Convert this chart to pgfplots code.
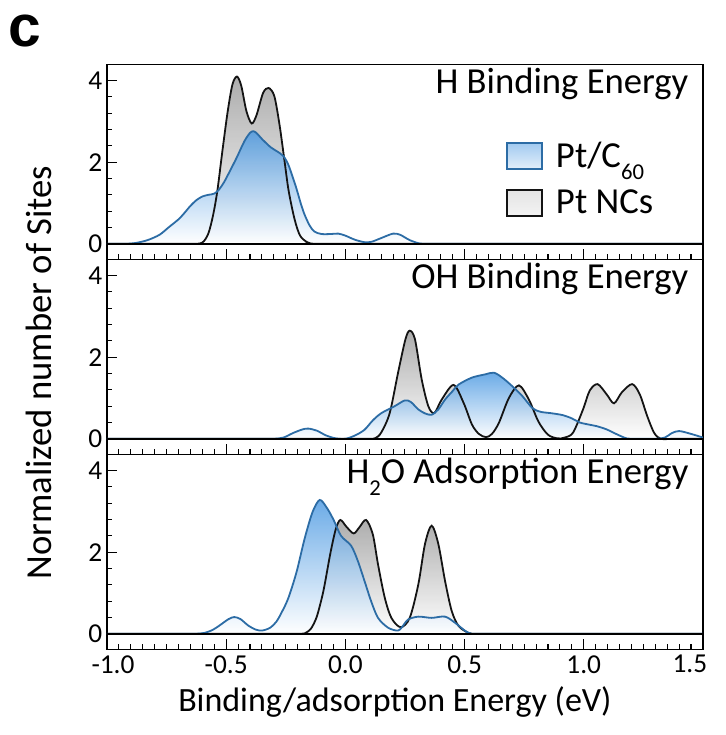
\documentclass[border=0pt]{standalone}
\usepackage{fontspec}
\setmainfont{Carlito}
\newfontfamily\panelfont{Liberation Sans}
\usepackage{pgfplots}
\usepackage{pgfplotstable}
\pgfplotsset{compat=1.18}

\definecolor{ptcline}{RGB}{44,108,165}
\definecolor{ptcfill}{RGB}{70,150,225}
\definecolor{ncfill}{RGB}{158,158,158}
\definecolor{ncline}{RGB}{20,20,20}

% ---------------- H binding energy ----------------
\pgfplotstableread{
x y
-1.0 0
-0.70 0
-0.64 0
-0.60 0.03
-0.575 0.25
-0.555 0.7
-0.537 1.3
-0.516 2.27
-0.494 3.23
-0.474 3.9
-0.455 4.1
-0.437 3.88
-0.415 3.25
-0.393 2.95
-0.373 3.15
-0.345 3.7
-0.322 3.82
-0.298 3.62
-0.276 2.91
-0.255 2.02
-0.238 1.3
-0.213 0.6
-0.19 0.2
-0.16 0.04
-0.13 0
-0.05 0
1.5 0
}\hNC

\pgfplotstableread{
x y
-1.0 0
-0.95 0
-0.92 0
-0.88 0.02
-0.83 0.09
-0.78 0.22
-0.74 0.41
-0.70 0.6
-0.676 0.75
-0.65 0.93
-0.625 1.07
-0.60 1.16
-0.575 1.2
-0.55 1.23
-0.53 1.33
-0.51 1.5
-0.49 1.72
-0.457 2.1
-0.424 2.51
-0.40 2.72
-0.385 2.76
-0.37 2.7
-0.35 2.57
-0.314 2.37
-0.285 2.26
-0.26 2.15
-0.24 1.95
-0.22 1.62
-0.205 1.35
-0.185 0.95
-0.17 0.7
-0.15 0.45
-0.13 0.3
-0.10 0.24
-0.06 0.24
-0.03 0.25
0.0 0.2
0.04 0.1
0.08 0.04
0.11 0.05
0.15 0.14
0.20 0.25
0.23 0.22
0.27 0.09
0.31 0.01
0.34 0
0.40 0
1.5 0
}\hPt

% ---------------- OH binding energy ----------------
\pgfplotstableread{
x y
-1.0 0
0.05 0
0.08 0
0.123 0.01
0.15 0.15
0.186 0.63
0.221 1.62
0.252 2.44
0.270 2.65
0.292 2.44
0.320 1.46
0.348 0.8
0.373 0.63
0.404 0.96
0.454 1.32
0.496 0.88
0.531 0.35
0.560 0.12
0.590 0.04
0.615 0.12
0.644 0.39
0.686 1.0
0.728 1.31
0.770 0.96
0.810 0.42
0.850 0.10
0.890 0.01
0.920 0.03
0.955 0.15
0.997 0.72
1.025 1.18
1.058 1.34
1.096 1.09
1.127 0.87
1.160 1.14
1.203 1.34
1.235 1.09
1.266 0.56
1.295 0.15
1.323 0.0
1.38 0
1.5 0
}\ohNC

\pgfplotstableread{
x y
-1.0 0
-0.35 0
-0.30 0
-0.26 0.03
-0.22 0.14
-0.18 0.23
-0.155 0.25
-0.12 0.2
-0.08 0.08
-0.04 0.01
0.00 0
0.04 0.08
0.08 0.22
0.115 0.45
0.151 0.63
0.207 0.8
0.249 0.94
0.275 0.9
0.306 0.72
0.335 0.62
0.362 0.59
0.39 0.72
0.418 0.96
0.45 1.17
0.475 1.33
0.531 1.5
0.587 1.58
0.623 1.62
0.658 1.5
0.70 1.29
0.742 1.05
0.785 0.75
0.82 0.66
0.86 0.63
0.912 0.58
0.95 0.5
0.983 0.4
1.02 0.35
1.054 0.31
1.096 0.23
1.139 0.11
1.18 0.01
1.22 0
1.30 0
1.34 0.03
1.37 0.14
1.40 0.19
1.45 0.12
1.5 0.03
}\ohPt

% ---------------- H2O adsorption energy ----------------
\pgfplotstableread{
x y
-1.0 0
-0.25 0
-0.20 0
-0.171 0.01
-0.145 0.12
-0.121 0.4
-0.10 0.85
-0.087 1.2
-0.062 2.0
-0.04 2.57
-0.021 2.79
0.005 2.62
0.035 2.46
0.06 2.62
0.087 2.79
0.115 2.44
0.137 1.7
0.165 0.89
0.193 0.39
0.232 0.16
0.27 0.39
0.306 1.21
0.334 2.2
0.362 2.65
0.39 2.2
0.418 1.3
0.446 0.56
0.475 0.19
0.517 0.02
0.545 0
0.60 0
1.5 0
}\waNC

\pgfplotstableread{
x y
-1.0 0
-0.68 0
-0.63 0
-0.592 0.02
-0.555 0.1
-0.524 0.22
-0.49 0.36
-0.466 0.41
-0.44 0.36
-0.407 0.2
-0.375 0.1
-0.348 0.08
-0.315 0.15
-0.289 0.3
-0.265 0.55
-0.239 0.88
-0.205 1.51
-0.171 2.33
-0.138 2.98
-0.108 3.28
-0.079 3.1
-0.05 2.8
-0.018 2.4
0.024 2.16
0.052 1.79
0.08 1.3
0.108 0.8
0.137 0.39
0.179 0.15
0.221 0.08
0.245 0.22
0.263 0.35
0.306 0.42
0.362 0.39
0.418 0.42
0.46 0.27
0.503 0.07
0.53 0
0.58 0
1.5 0
}\waPt

\pgfplotsset{
  panel/.style={
    scale only axis, width=447pt, height=146.25pt,
    xmin=-1, xmax=1.5, ymin=-0.38, ymax=4.4,
    xtick={-1,-0.5,0,0.5,1,1.5}, ytick={0,2,4}, yticklabels={0,2,4},
    minor x tick num=9, minor y tick num=4,
    tick align=inside, tick pos=left,
    major tick length=7.5pt, minor tick length=4pt,
    tick style={line width=0.8pt, black},
    axis line style={line width=1.1pt},
    ticklabel style={font=\fontsize{20.5}{24}\selectfont},
    legend image code/.code={\path[##1] (0pt,-9.75pt) rectangle (26.25pt,9.75pt);},
  },
}
\tikzset{
  ncarea/.style={draw=none, smooth, fill opacity=0.85, top color=ncfill, bottom color=white},
  ptcarea/.style={draw=none, smooth, fill opacity=0.8, top color=ptcfill, bottom color=white},
  ncplot/.style={color=ncline, line width=1.35pt, smooth},
  ptcplot/.style={color=ptcline, line width=1.35pt, smooth},
  zeroline/.style={black, line width=1.5pt},
  paneltitle/.style={anchor=base east, inner sep=0pt, font=\fontsize{27.5}{32}\selectfont},
}

\newcommand{\lowsub}[1]{\raisebox{-0.32em}{\fontsize{17}{17}\selectfont #1}}

\begin{document}
\begin{tikzpicture}
% top panel: H binding energy, with the legend
\begin{axis}[panel, at={(0pt,292.5pt)}, anchor=south west, xticklabels={},
  legend style={at={(0.669,0.614)}, anchor=north west, draw=none, fill=none,
    inner sep=0pt, row sep=11pt, column sep=8pt,
    font=\fontsize{27.5}{32}\selectfont},
  legend cell align=left]
\addplot[ncarea, forget plot] table {\hNC} \closedcycle;
\addplot[ptcarea, forget plot] table {\hPt} \closedcycle;
\addplot[ncplot, forget plot] table {\hNC};
\addplot[ptcplot, forget plot] table {\hPt};
\addplot[zeroline, forget plot] coordinates {(-1,0) (1.5,0)};
\node[paneltitle] at (rel axis cs:0.976,0.85) {H Binding Energy};
\addlegendimage{draw=ptcline, line width=1.2pt, top color=ptcfill!50, bottom color=ptcfill!15}
\addlegendentry{Pt/C\lowsub{60}}
\addlegendimage{draw=ncline, line width=1.2pt, top color=ncfill!28, bottom color=ncfill!12}
\addlegendentry{Pt NCs}
\end{axis}

% middle panel: OH binding energy
\begin{axis}[panel, at={(0pt,146.25pt)}, anchor=south west, xticklabels={}]
\addplot[ncarea, forget plot] table {\ohNC} \closedcycle;
\addplot[ptcarea, forget plot] table {\ohPt} \closedcycle;
\addplot[ncplot, forget plot] table {\ohNC};
\addplot[ptcplot, forget plot] table {\ohPt};
\addplot[zeroline, forget plot] coordinates {(-1,0) (1.5,0)};
\node[paneltitle] at (rel axis cs:0.976,0.85) {OH Binding Energy};
\end{axis}

% bottom panel: H2O adsorption energy
\begin{axis}[panel, at={(0pt,0pt)}, anchor=south west,
  xticklabels={\hspace*{9pt}-1.0,-0.5,0.0,0.5,1.0,1.5\hspace*{19.5pt}},
  xticklabel style={yshift=-1pt}]
\addplot[ncarea, forget plot] table {\waNC} \closedcycle;
\addplot[ptcarea, forget plot] table {\waPt} \closedcycle;
\addplot[ncplot, forget plot] table {\waNC};
\addplot[ptcplot, forget plot] table {\waPt};
\addplot[zeroline, forget plot] coordinates {(-1,0) (1.5,0)};
\node[paneltitle] at (rel axis cs:0.976,0.85) {H\lowsub{2}O Adsorption Energy};
\end{axis}

\node[rotate=90, font=\fontsize{27.5}{32}\selectfont] at (-51pt,207.5pt) {Normalized number of Sites};
\node[anchor=base, font=\fontsize{25.5}{30}\selectfont] at (216pt,-47pt) {Binding/adsorption Energy (eV)};
\node[font=\panelfont\bfseries\fontsize{44}{44}\selectfont] at (-61.5pt,463.7pt) {c};

\pgfresetboundingbox
\path (-80.25pt,-64.3pt) rectangle (464.25pt,487pt);
\end{tikzpicture}
\end{document}
